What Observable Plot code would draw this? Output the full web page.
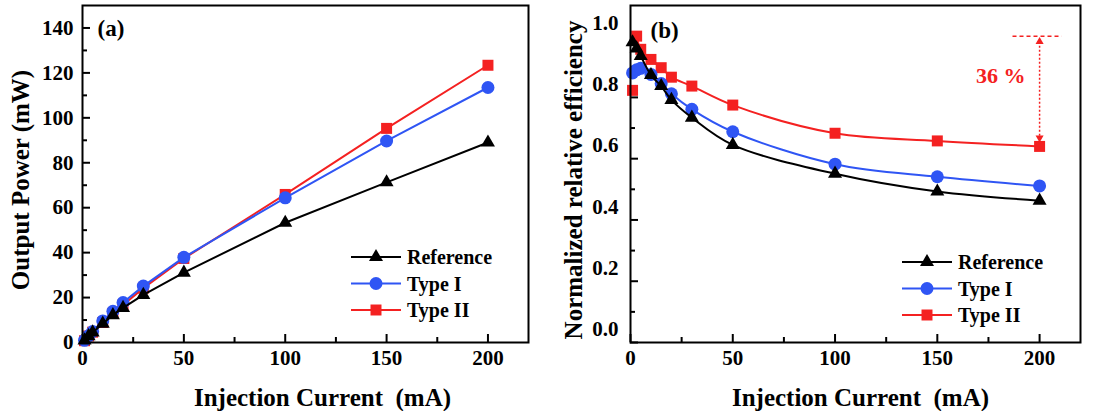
<!DOCTYPE html>
<html>
<head>
<meta charset="utf-8">
<script src="https://cdn.jsdelivr.net/npm/d3@7"></script>
<script src="https://cdn.jsdelivr.net/npm/@observablehq/plot@0.6"></script>
<style>
  body { margin: 0; background: #fff; }
  #fig { position: relative; width: 1114px; height: 411px; font-family: "Liberation Serif", "Times New Roman", serif; font-weight: bold; }
  #fig > .panel { position: absolute; top: 0; }
  #fig > .legend { position: absolute; overflow: visible; }
</style>
</head>
<body>
<div id="fig"></div>
<script>
// Injection current (mA) at each measurement
const current = [1, 3, 5, 10, 15, 20, 30, 50, 100, 150, 200];

// (a) output power, mW
const powerRef   = [0.95, 2.8, 4.5, 8.4, 12.2, 15.4, 21.2, 31.1, 53.3, 71.3, 89.0];
const powerType1 = [0.97, 2.95, 4.9, 9.6, 13.9, 17.8, 25.1, 37.9, 64.4, 89.7, 113.5];
const powerType2 = [0.8, 2.9, 4.6, 8.9, 13.0, 16.7, 24.2, 37.4, 65.9, 95.3, 123.4];

// (b) normalized relative efficiency
const effRef   = [0.98, 0.96, 0.935, 0.873, 0.837, 0.792, 0.734, 0.645, 0.551, 0.493, 0.463];
const effType1 = [0.88, 0.89, 0.895, 0.875, 0.845, 0.812, 0.761, 0.688, 0.582, 0.541, 0.511];
const effType2 = [0.823, 1.0, 0.957, 0.924, 0.897, 0.866, 0.837, 0.775, 0.683, 0.658, 0.64];
const effType2FitFrom = 3; // the fitted Type II curve starts at 3 mA

const seriesNames   = ["Reference", "Type I", "Type II"];
const seriesColors  = ["#000000", "#2f55f4", "#f42121"];
const seriesSymbols = ["triangle", "circle", "square"];
const seriesRadius  = [5.2, 6.5, 6.2];

// Axis ticks
const xMajor = [0, 50, 100, 150, 200];
const xMinor = [25, 75, 125, 175];
const powerMajor = [0, 20, 40, 60, 80, 100, 120, 140];
const powerMinor = [10, 30, 50, 70, 90, 110, 130];
const effMajor = [0, 0.2, 0.4, 0.6, 0.8, 1.0];
const effMinor = [0.1, 0.3, 0.5, 0.7, 0.9];

// Droop annotation in (b): Type II drop from the 1.0 level at 200 mA
const droopLevel = 1.0;
const droopSpan = [187, 211];
const droopCurrent = 200;
const droopValue = effType2[effType2.length - 1];
const droopText = `${Math.round((droopLevel - droopValue) * 100)} %`;
const droopTextPos = {x: 181, y: 0.87};

const W = 557, H = 411, MT = 5, MB = 69;

function rowsFor(seriesValues) {
  return seriesValues.flatMap((vals, i) =>
    vals.map((v, j) => ({x: current[j], y: v, s: i})));
}

function buildPanel(cfg) {
  const fw = W - cfg.marginLeft - cfg.marginRight;
  const fh = H - MT - MB;
  const rows = rowsFor(cfg.values);
  const marks = [];
  // inward ticks, then tick labels
  marks.push(
    Plot.tickY(cfg.yMajor, {y: d => d, insetRight: fw - 8, strokeWidth: 2}),
    Plot.tickY(cfg.yMinor, {y: d => d, insetRight: fw - 5, strokeWidth: 2}),
    Plot.tickX(xMajor, {x: d => d, insetTop: fh - 8, strokeWidth: 2}),
    Plot.tickX(xMinor, {x: d => d, insetTop: fh - 5, strokeWidth: 2}),
    Plot.axisY({ticks: cfg.yMajor, tickSize: 0, tickPadding: cfg.yPad, tickFormat: cfg.yFormat, dy: cfg.yLabelDy, fontSize: 21, label: null}),
    Plot.axisX({ticks: xMajor, tickSize: 0, tickPadding: 8, fontSize: 21, label: null})
  );
  // series drawn back to front: Type II, Type I, Reference
  for (const i of [2, 1, 0]) {
    const pts = rows.filter(r => r.s === i);
    const linePts = cfg.lineFilter ? pts.filter(r => cfg.lineFilter(r)) : pts;
    marks.push(Plot.line(linePts, {x: "x", y: "y", stroke: seriesColors[i], strokeWidth: 2, curve: cfg.curve}));
    marks.push(Plot.dot(pts, {x: "x", y: "y", symbol: seriesSymbols[i], r: seriesRadius[i], fill: seriesColors[i], stroke: "none"}));
  }
  if (cfg.extra) marks.push(...cfg.extra);
  marks.push(
    Plot.text([cfg.tag], {frameAnchor: "top-left", dx: cfg.tagDx, dy: cfg.tagDy, lineAnchor: "top", textAnchor: "start", fontSize: 23}),
    Plot.text([cfg.yTitle], {frameAnchor: "left", dx: cfg.yTitleDx, dy: 6, rotate: -90, textAnchor: "middle", lineAnchor: "middle", fontSize: 25}),
    Plot.text(["Injection Current\u00a0 (mA)"], {frameAnchor: "bottom", dx: cfg.xTitleDx, dy: 55, textAnchor: "middle", lineAnchor: "middle", fontSize: 25}),
    Plot.frame({strokeWidth: 2})
  );
  const svg = Plot.plot({
    width: W, height: H,
    marginLeft: cfg.marginLeft, marginRight: cfg.marginRight, marginTop: MT, marginBottom: MB,
    x: {domain: [0, 220]},
    y: {domain: cfg.yDomain},
    style: {fontFamily: "'Liberation Serif', 'Times New Roman', serif", fontWeight: "bold", fontSize: "21px", color: "#000", background: "transparent", overflow: "visible"},
    marks
  });
  svg.classList.add("panel");
  svg.style.left = cfg.left + "px";
  return svg;
}

function buildLegend(left, top) {
  const rowGap = 26.5;
  const svg = d3.create("svg")
    .attr("class", "legend")
    .attr("width", 180).attr("height", 90)
    .style("left", (left - 2) + "px").style("top", (top - 12) + "px");
  const g = svg.append("g").attr("transform", "translate(2,12)");
  seriesNames.forEach((name, i) => {
    const row = g.append("g").attr("transform", `translate(0,${i * rowGap})`);
    row.append("line").attr("x1", 0).attr("x2", 50).attr("y1", 0).attr("y2", 0)
      .attr("stroke", seriesColors[i]).attr("stroke-width", 2);
    const sym = {triangle: d3.symbolTriangle, circle: d3.symbolCircle, square: d3.symbolSquare}[seriesSymbols[i]];
    row.append("path").attr("transform", "translate(25,0)")
      .attr("d", d3.symbol(sym, Math.PI * seriesRadius[i] ** 2)())
      .attr("fill", seriesColors[i]);
    row.append("text").attr("x", 56).attr("y", 0).attr("dy", "0.35em")
      .attr("font-family", "'Liberation Serif', 'Times New Roman', serif")
      .attr("font-weight", "bold").attr("font-size", 20).attr("fill", "#000")
      .text(name);
  });
  return svg.node();
}

const red = seriesColors[2];
const droopMarks = [
  Plot.ruleY([droopLevel], {x1: droopSpan[0], x2: droopSpan[1], stroke: red, strokeWidth: 1.5, strokeDasharray: "4,3"}),
  Plot.ruleX([droopCurrent], {y1: droopValue + 0.02, y2: droopLevel - 0.012, stroke: red, strokeWidth: 1.5, strokeDasharray: "2,2"}),
  Plot.dot([{x: droopCurrent, y: droopLevel - 0.018, a: 0}, {x: droopCurrent, y: droopValue + 0.028, a: 180}],
    {x: "x", y: "y", rotate: "a", symbol: "triangle", r: 3, fill: red}),
  Plot.text([droopText], {x: () => droopTextPos.x, y: () => droopTextPos.y, fill: red, fontSize: 22, textAnchor: "middle"})
];

const fig = document.getElementById("fig");

fig.appendChild(buildPanel({
  left: 0, marginLeft: 82, marginRight: 29,
  values: [powerRef, powerType1, powerType2],
  yDomain: [0, 150], yMajor: powerMajor, yMinor: powerMinor,
  yFormat: d3.format("d"), yPad: 9, yLabelDy: 0,
  curve: "linear",
  tag: "(a)", tagDx: 15, tagDy: 14,
  yTitle: "Output Power (mW)", yTitleDx: -62, xTitleDx: 17
}));

fig.appendChild(buildPanel({
  left: 557, marginLeft: 73, marginRight: 34,
  values: [effRef, effType1, effType2],
  yDomain: [0, 1.1], yMajor: effMajor, yMinor: effMinor,
  yFormat: d3.format(".1f"), yPad: 12, yLabelDy: -13,
  curve: "catmull-rom",
  lineFilter: r => !(r.s === 2 && r.x < effType2FitFrom),
  extra: droopMarks,
  tag: "(b)", tagDx: 20, tagDy: 16,
  yTitle: "Normalized relative efficiency", yTitleDx: -57, xTitleDx: 5
}));

fig.appendChild(buildLegend(351, 257));
fig.appendChild(buildLegend(902, 262));
</script>
</body>
</html>
